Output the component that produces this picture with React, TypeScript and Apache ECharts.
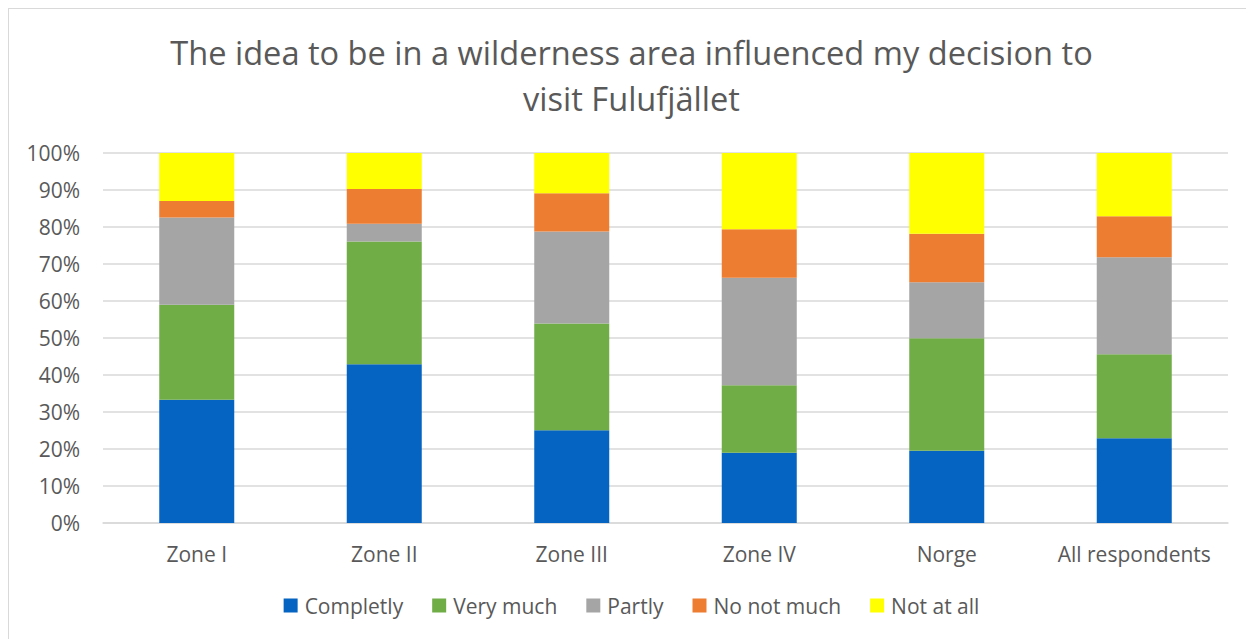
import React, { useEffect, useRef } from "react";
import * as echarts from "echarts";

const categories = ["Zone I", "Zone II", "Zone III", "Zone IV", "Norge", "All respondents"];
const seriesNames = ["Completly", "Very much", "Partly", "No not much", "Not at all"];
const completly = [33.3, 42.9, 25.1, 19.0, 19.5, 22.9];
const veryMuch = [25.7, 33.2, 28.8, 18.2, 30.4, 22.7];
const partly = [23.6, 4.8, 24.9, 29.1, 15.2, 26.2];
const noNotMuch = [4.4, 9.4, 10.3, 13.1, 13.1, 11.1];
const notAtAll = [13.0, 9.7, 10.9, 20.6, 21.8, 17.1];
const colors = ["#0563C1", "#70AD47", "#A5A5A5", "#ED7D31", "#FFFF00"];
const titleText = "The idea to be in a wilderness area influenced my decision to\nvisit Fulufjället";

export default function App() {
  const ref = useRef<HTMLDivElement>(null);
  useEffect(() => {
    if (!ref.current) return;
    const chart = echarts.init(ref.current, null, { renderer: "svg" });
    const data = [completly, veryMuch, partly, noNotMuch, notAtAll];
    const font = "'Open Sans', Calibri, sans-serif";
    chart.setOption({
      animation: false,
      textStyle: { fontFamily: font },
      graphic: [
        {
          type: "text",
          left: "center",
          top: 20,
          style: {
            text: titleText,
            textAlign: "center",
            fill: "#595959",
            fontSize: 32.6,
            fontFamily: font,
            lineHeight: 46,
          },
        },
      ],
      grid: { left: 94, right: 26, top: 144, bottom: 116, containLabel: false },
      legend: {
        bottom: 18,
        left: "center",
        itemWidth: 14,
        itemHeight: 14,
        itemGap: 29,
        icon: "rect",
        textStyle: { fontSize: 21, color: "#595959", fontFamily: font, padding: [0, 0, 0, 2] },
        data: seriesNames,
      },
      xAxis: {
        type: "category",
        data: categories,
        axisLine: { lineStyle: { color: "#d9d9d9", width: 1.5 } },
        axisTick: { show: false },
        axisLabel: { fontSize: 21, color: "#595959", margin: 20, interval: 0, fontFamily: font },
      },
      yAxis: {
        type: "value",
        min: 0,
        max: 100,
        interval: 10,
        axisLine: { show: false },
        axisTick: { show: false },
        splitLine: { lineStyle: { color: "#d9d9d9", width: 1.5 } },
        axisLabel: { fontSize: 21, color: "#595959", margin: 23, formatter: "{value}%", fontFamily: font },
      },
      series: seriesNames.map((name, i) => ({
        name,
        type: "bar",
        stack: "total",
        barWidth: 75,
        data: data[i],
        itemStyle: { color: colors[i] },
      })),
    });
    return () => chart.dispose();
  }, []);
  return (
    <div
      style={{
        width: 1246,
        height: 631,
        borderLeft: "1px solid #d9d9d9",
        borderTop: "1px solid #d9d9d9",
        boxSizing: "border-box",
        overflow: "hidden",
      }}
    >
      <div ref={ref} style={{ width: 1245, height: 630 }} />
    </div>
  );
}
